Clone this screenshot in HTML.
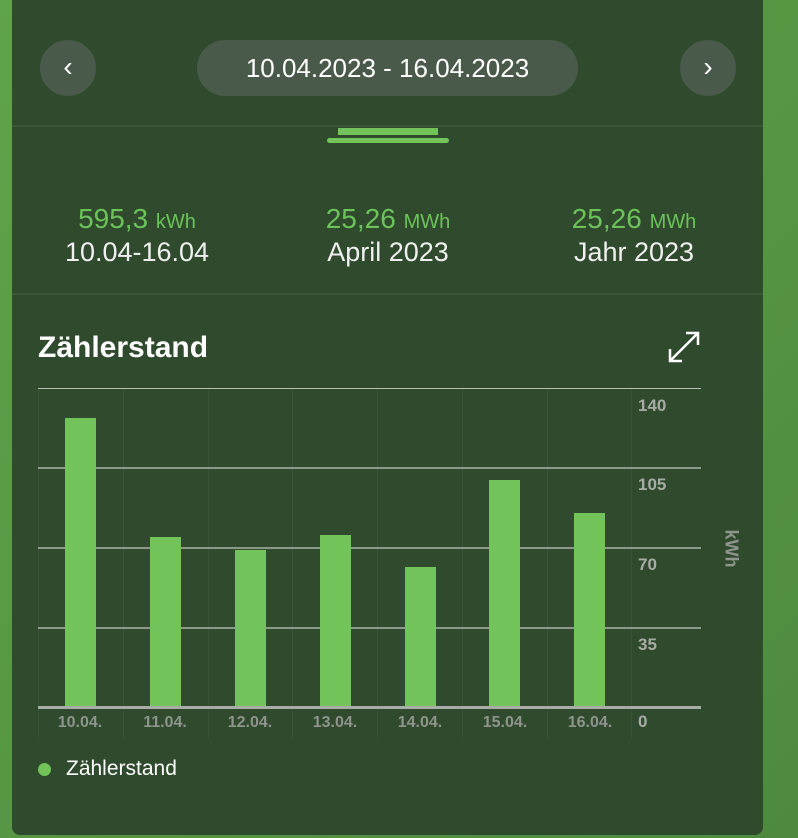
<!DOCTYPE html>
<html><head><meta charset="utf-8"><style>
body{margin:0;width:798px;height:838px;overflow:hidden;background:linear-gradient(135deg,#5fa34a,#4e8a3e);font-family:"Liberation Sans",sans-serif;position:relative}
.p{position:absolute;left:12px;top:-10px;width:751px;height:845px;background:#2f4a2d;border-radius:8px}
.a{position:absolute}
.c{position:absolute;width:56px;height:56px;border-radius:50%;background:#4a5a4a;color:#fff;font-size:28px;text-align:center;line-height:54px}
.n{color:#6cc35a;font-size:28px;text-align:center;width:250px}
.n span{font-size:20px}
.l{color:#f0f0f0;font-size:27px;text-align:center;width:250px}
.g{position:absolute;left:38px;width:663px;height:2px;background:#8c988a}
.v{position:absolute;top:389px;width:1px;height:350px;background:#38523a}
.b{position:absolute;width:31px;background:#72c35a}
.y{position:absolute;left:638px;color:#a8aca6;font-weight:bold;font-size:17px}
.x{position:absolute;top:714px;color:#8f948d;font-size:16px;font-weight:bold;width:70px;text-align:center}
</style></head><body>
<div class="p"></div>
<div class="c" style="left:40px;top:40px">‹</div>
<div class="c" style="left:680px;top:40px">›</div>
<div class="a" style="left:197px;top:40px;width:381px;height:56px;border-radius:28px;background:#4a5a4a;color:#fff;font-size:26px;text-align:center;line-height:56px">10.04.2023 - 16.04.2023</div>
<div class="a" style="left:12px;top:125px;width:751px;height:2px;background:#3b563a"></div>
<div class="a" style="left:338px;top:128px;width:100px;height:7px;background:#72c35a"></div>
<div class="a" style="left:327px;top:138px;width:122px;height:5px;border-radius:3px;background:#72c35a"></div>
<div class="a n" style="left:12px;top:203px">595,3 <span>kWh</span></div>
<div class="a l" style="left:12px;top:237px">10.04-16.04</div>
<div class="a n" style="left:263px;top:203px">25,26 <span>MWh</span></div>
<div class="a l" style="left:263px;top:237px">April 2023</div>
<div class="a n" style="left:509px;top:203px">25,26 <span>MWh</span></div>
<div class="a l" style="left:509px;top:237px">Jahr 2023</div>
<div class="a" style="left:12px;top:293px;width:751px;height:2px;background:#3b563a"></div>
<div class="a" style="left:38px;top:331px;color:#fff;font-weight:bold;font-size:30px">Zählerstand</div>
<svg class="a" style="left:666px;top:329px" width="36" height="36"><g stroke="#fff" stroke-width="2.5" fill="none"><path d="M4 32L32 4M20 4H32V16M4 20V32H16"/></g></svg>
<div class="v" style="left:38px"></div><div class="v" style="left:123px"></div><div class="v" style="left:208px"></div><div class="v" style="left:292px"></div><div class="v" style="left:377px"></div><div class="v" style="left:462px"></div><div class="v" style="left:547px"></div><div class="v" style="left:631px"></div>
<div class="g" style="top:388px;height:1px;background:#b8c0b6"></div>
<div class="g" style="top:467px"></div><div class="g" style="top:547px"></div><div class="g" style="top:627px"></div>
<div class="b" style="left:65px;top:418px;height:289px"></div>
<div class="b" style="left:150px;top:537px;height:170px"></div>
<div class="b" style="left:235px;top:550px;height:157px"></div>
<div class="b" style="left:320px;top:535px;height:172px"></div>
<div class="b" style="left:405px;top:567px;height:140px"></div>
<div class="b" style="left:489px;top:480px;height:227px"></div>
<div class="b" style="left:574px;top:513px;height:194px"></div>
<div class="g" style="top:706px;height:3px;background:#a8aca6"></div>
<div class="y" style="top:396px">140</div><div class="y" style="top:475px">105</div><div class="y" style="top:555px">70</div><div class="y" style="top:635px">35</div><div class="y" style="top:712px">0</div>
<div class="a" style="left:712px;top:538px;transform:rotate(90deg);color:#8f948d;font-weight:bold;font-size:18px">kWh</div>
<div class="x" style="left:45px">10.04.</div><div class="x" style="left:130px">11.04.</div><div class="x" style="left:215px">12.04.</div><div class="x" style="left:300px">13.04.</div><div class="x" style="left:385px">14.04.</div><div class="x" style="left:470px">15.04.</div><div class="x" style="left:555px">16.04.</div>
<div class="a" style="left:38px;top:763px;width:13px;height:13px;border-radius:50%;background:#72c35a"></div>
<div class="a" style="left:66px;top:757px;color:#fff;font-size:21px">Zählerstand</div>
</body></html>
